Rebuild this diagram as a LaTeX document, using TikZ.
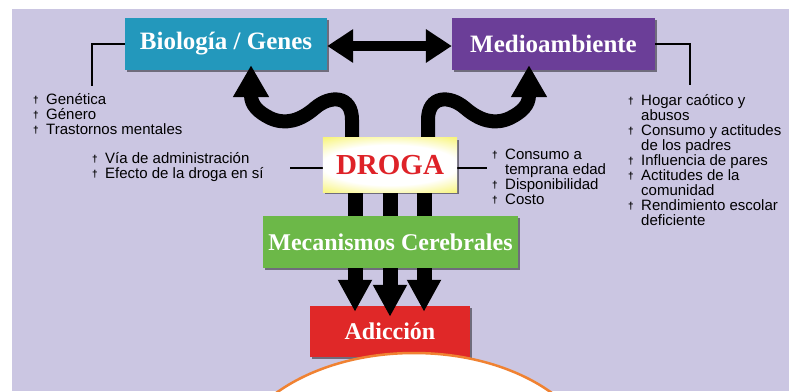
\documentclass[tikz,border=0pt]{standalone}
\usepackage{fontspec}
\setmainfont{Liberation Serif}
\newfontfamily\sansf{Liberation Sans}
\usetikzlibrary{arrows.meta,shadows,calc}
\definecolor{lav}{RGB}{203,198,226}
\definecolor{bioC}{RGB}{35,152,188}
\definecolor{medC}{RGB}{107,62,152}
\definecolor{drogC}{RGB}{245,240,62}
\definecolor{mecaC}{RGB}{108,184,72}
\definecolor{adicC}{RGB}{224,40,40}
\definecolor{ellC}{RGB}{240,130,50}
\definecolor{drogT}{RGB}{222,34,40}
\pgfdeclarelayer{low}
\pgfdeclarelayer{top}
\pgfsetlayers{low,main,top}
\pgfdeclareradialshading{glow}{\pgfpoint{0bp}{0bp}}{color(0bp)=(white); color(14bp)=(white); color(28bp)=(drogC); color(50bp)=(drogC)}
\newcommand\bul{\makebox[13pt][l]{\raisebox{1pt}{\fontsize{10}{10}\selectfont\bfseries †}}}
\newcommand\bi[1]{\hbox{\bul#1}}
\newcommand\bc[1]{\hbox{\hspace*{13pt}#1}}
\newcommand\blist[1]{\vtop{\baselineskip=15pt\lineskiplimit=-10pt\lineskip=0pt #1}}
\tikzset{
  box/.style={inner sep=0pt, text=white, drop shadow={shadow xshift=2pt,shadow yshift=-2pt,opacity=0.45,fill=black}},
  ttlA/.style={font=\fontsize{25}{25}\selectfont\bfseries},
  ttlB/.style={font=\fontsize{24}{24}\selectfont\bfseries},
  lst/.style={font=\sansf\fontsize{15}{15}\selectfont, anchor=base west, inner sep=0pt, text=black},
  thinline/.style={line width=2pt, black},
  dbl/.style={line width=10pt, {Triangle[length=26pt,width=32pt]}-{Triangle[length=26pt,width=32pt]}},
  curv/.style={line width=14pt, -{Triangle[length=32pt,width=34pt]}},
  vert/.style={line width=15pt, -{Triangle[length=32pt,width=32pt]}},
}
\begin{document}
\begin{tikzpicture}[x=1pt,y=-1pt]
\useasboundingbox (0,0) rectangle (789,391);
\begin{pgfonlayer}{low}
\fill[white] (0,0) rectangle (789,391);
\fill[lav] (12,9) rectangle (789,391);
\node[box, fill=bioC, minimum width=202pt, minimum height=52pt, ttlA] (bio) at (226,44) {Biología / Genes};
\node[box, fill=medC, minimum width=203pt, minimum height=52pt, ttlA] (med) at (553.5,44) {Medioambiente};
\node[box, fill=adicC, minimum width=160pt, minimum height=51pt, ttlB] (adic) at (390,331.5) {Adicción};
\end{pgfonlayer}

% ellipse at bottom
\begin{scope}
\clip (0,0) rectangle (789,391);
\draw[ellC, line width=2.5pt, fill=white] (414,473) ellipse (185pt and 120pt);
\end{scope}

% connectors
\coordinate (bl) at (92,86);
\coordinate (mr) at (690,85);
\coordinate (dl) at (290,168);
\coordinate (dr) at (487,168);
\draw[thinline] (bio.west) -| (bl);
\draw[thinline] (med.east) -| (mr);

% arrows
\draw[dbl] ([yshift=-2pt]bio.east) -- ([yshift=-2pt]med.west);

\begin{pgfonlayer}{top}
\node[box, fill=drogC, minimum width=134pt, minimum height=54pt] (drog) at (390,165) {};
\begin{scope}
\clip (drog.south west) rectangle (drog.north east);
\shade[shading=glow] (drog.center) ellipse (120pt and 36pt);
\end{scope}
\node[font=\fontsize{29}{29}\selectfont\bfseries, text=drogT, inner sep=0pt] (drogtxt) at (drog.center) {DROGA};
\node[box, fill=mecaC, minimum width=255pt, minimum height=52pt, ttlB] (meca) at (390.5,242) {Mecanismos Cerebrales};
\end{pgfonlayer}

\draw[thinline] (drog.west |- dl) -- (dl);
\draw[thinline] (drog.east |- dr) -- (dr);

\draw[curv] ([xshift=-38pt]drog.north) -- (352,120)
  .. controls (352,95) and (330,95) .. (315,108)
  .. controls (300,121) and (285,125) .. (270,118)
  .. controls (258,112) and (251,105) .. (251,95)
  -- ([xshift=25pt,yshift=5pt]bio.south);
\draw[curv] ([xshift=38pt]drog.north) -- (428,120)
  .. controls (428,95) and (450,95) .. (465,108)
  .. controls (480,121) and (495,125) .. (510,118)
  .. controls (522,112) and (529,105) .. (529,95)
  -- ([xshift=-24.5pt,yshift=5pt]med.south);

\draw[vert] ([xshift=-35pt]drog.south) -- ([xshift=-35pt,yshift=-6pt]adic.north);
\draw[vert] (drog.south) -- ([yshift=-11pt]adic.north);
\draw[vert] ([xshift=34pt]drog.south) -- ([xshift=34pt,yshift=-6pt]adic.north);

% lists
\node[lst] (l1) at (33,104) {\blist{\bi{Genética}\bi{Género}\bi{Trastornos mentales}}};
\node[lst] (l2) at (92,163) {\blist{\bi{Vía de administración}\bi{Efecto de la droga en sí}}};
\node[lst] (l3) at (492,159) {\blist{\bi{Consumo a}\bc{temprana edad}\bi{Disponibilidad}\bi{Costo}}};
\node[lst] (l4) at (628,105) {\blist{\bi{Hogar caótico y}\bc{abusos}\bi{Consumo y actitudes}\bc{de los padres}\bi{Influencia de pares}\bi{Actitudes de la}\bc{comunidad}\bi{Rendimiento escolar}\bc{deficiente}}};
\end{tikzpicture}
\end{document}
